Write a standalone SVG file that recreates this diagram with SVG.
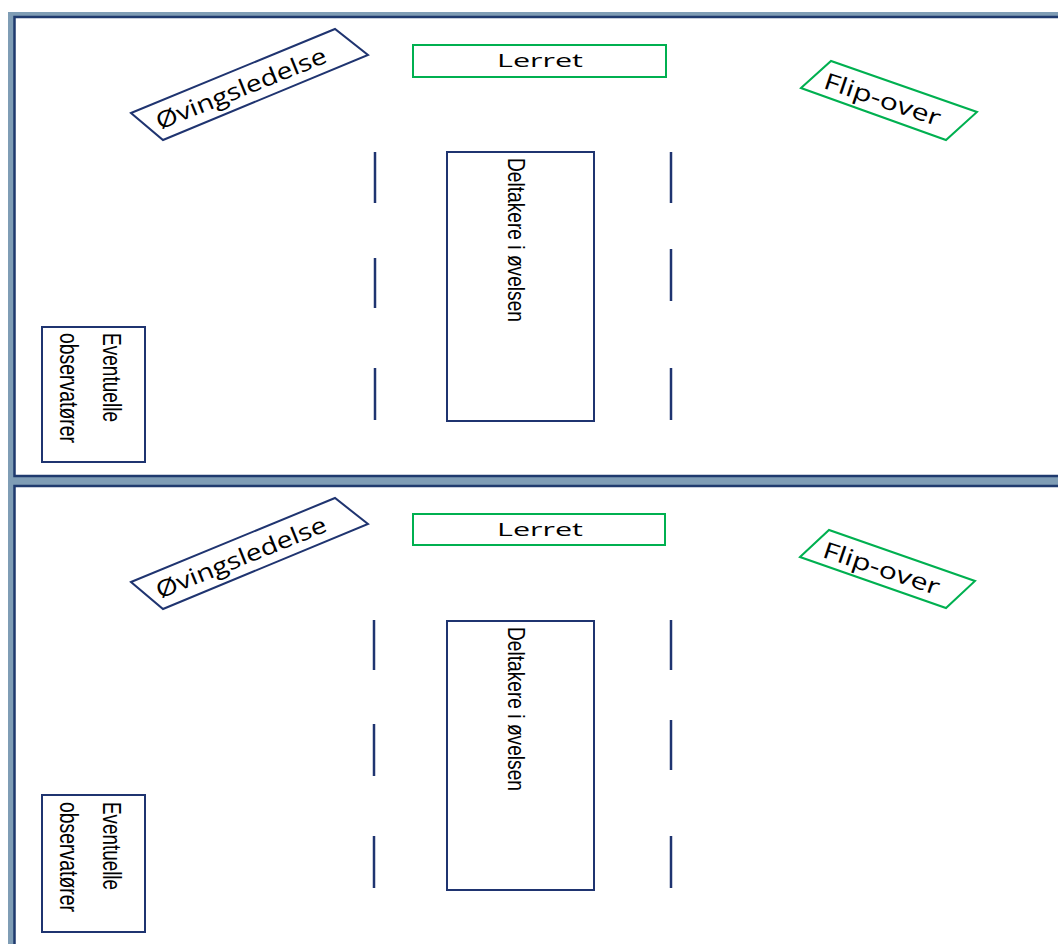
<svg xmlns="http://www.w3.org/2000/svg" width="1058" height="944" viewBox="0 0 1058 944">
<style>
.panel{fill:#ffffff;stroke:#1f3a6e;stroke-width:2.5}
.navy{fill:#ffffff;stroke:#1f3470;stroke-width:2}
.green{fill:#ffffff;stroke:#00b050;stroke-width:2}
.dash{stroke:#1f3470;stroke-width:2.5;fill:none}
.t{font-family:"Open Sans","Liberation Sans",sans-serif;fill:#000000}
.c{font-family:"Liberation Sans","Open Sans",sans-serif;fill:#000000}
</style>
<rect x="0" y="0" width="1058" height="944" fill="#ffffff"/>
<rect x="8" y="12" width="1050" height="932" fill="#7f9db5"/>
<rect class="panel" x="14.5" y="17" width="1060" height="459"/>
<rect class="panel" x="14.5" y="486" width="1060" height="470"/>

<g id="top-ovingsledelse">
<polygon class="navy" points="131,113 335,29 368,55 163,140"/>
<text class="t" font-size="23" text-anchor="middle" textLength="182" lengthAdjust="spacingAndGlyphs" transform="translate(244,96) rotate(-22)">Øvingsledelse</text>
</g>
<g id="top-lerret">
<rect class="green" x="413" y="45" width="253" height="32"/>
<text class="t" font-size="18" text-anchor="middle" x="540" y="67" textLength="86" lengthAdjust="spacingAndGlyphs">Lerret</text>
</g>
<g id="top-flipover">
<polygon class="green" points="801,88 831,61 977,112 946,140"/>
<text class="t" font-size="23" text-anchor="middle" textLength="122" lengthAdjust="spacingAndGlyphs" transform="translate(880,107) rotate(18.5)">Flip-over</text>
</g>
<g id="top-deltakere">
<rect class="navy" x="447" y="152" width="147" height="269"/>
<text class="c" font-size="24" textLength="164" lengthAdjust="spacingAndGlyphs" transform="translate(508,158) rotate(90)">Deltakere i øvelsen</text>
</g>
<g id="top-observatorer">
<rect class="navy" x="42" y="327" width="103" height="135"/>
<text class="c" font-size="25" textLength="89" lengthAdjust="spacingAndGlyphs" transform="translate(103,333) rotate(90)">Eventuelle</text>
<text class="c" font-size="25" textLength="110" lengthAdjust="spacingAndGlyphs" transform="translate(60,333) rotate(90)">observatører</text>
</g>

<g id="bottom-ovingsledelse">
<polygon class="navy" points="131,582 335,498 368,524 163,609"/>
<text class="t" font-size="23" text-anchor="middle" textLength="182" lengthAdjust="spacingAndGlyphs" transform="translate(244,565) rotate(-22)">Øvingsledelse</text>
</g>
<g id="bottom-lerret">
<rect class="green" x="413" y="514" width="252" height="31"/>
<text class="t" font-size="18" text-anchor="middle" x="540" y="536" textLength="86" lengthAdjust="spacingAndGlyphs">Lerret</text>
</g>
<g id="bottom-flipover">
<polygon class="green" points="800,557 829,530 975,581 946,608"/>
<text class="t" font-size="23" text-anchor="middle" textLength="122" lengthAdjust="spacingAndGlyphs" transform="translate(879,576) rotate(18.5)">Flip-over</text>
</g>
<g id="bottom-deltakere">
<rect class="navy" x="447" y="621" width="147" height="269"/>
<text class="c" font-size="24" textLength="164" lengthAdjust="spacingAndGlyphs" transform="translate(508,627) rotate(90)">Deltakere i øvelsen</text>
</g>
<g id="bottom-observatorer">
<rect class="navy" x="42" y="795" width="103" height="137" stroke="#2e2a6e"/>
<text class="c" font-size="25" textLength="88" lengthAdjust="spacingAndGlyphs" transform="translate(103,802) rotate(90)">Eventuelle</text>
<text class="c" font-size="25" textLength="110" lengthAdjust="spacingAndGlyphs" transform="translate(60,802) rotate(90)">observatører</text>
</g>

<g id="connectors">
<line class="dash" x1="375" y1="152" x2="375" y2="203"/>
<line class="dash" x1="375" y1="258" x2="375" y2="308"/>
<line class="dash" x1="375" y1="368" x2="375" y2="420"/>
<line class="dash" x1="671" y1="152" x2="671" y2="203"/>
<line class="dash" x1="671" y1="249" x2="671" y2="301"/>
<line class="dash" x1="671" y1="368" x2="671" y2="420"/>
<line class="dash" x1="374" y1="620" x2="374" y2="670"/>
<line class="dash" x1="374" y1="724" x2="374" y2="776"/>
<line class="dash" x1="374" y1="836" x2="374" y2="888"/>
<line class="dash" x1="671" y1="620" x2="671" y2="670"/>
<line class="dash" x1="671" y1="720" x2="671" y2="770"/>
<line class="dash" x1="671" y1="836" x2="671" y2="888"/>
</g>
</svg>
